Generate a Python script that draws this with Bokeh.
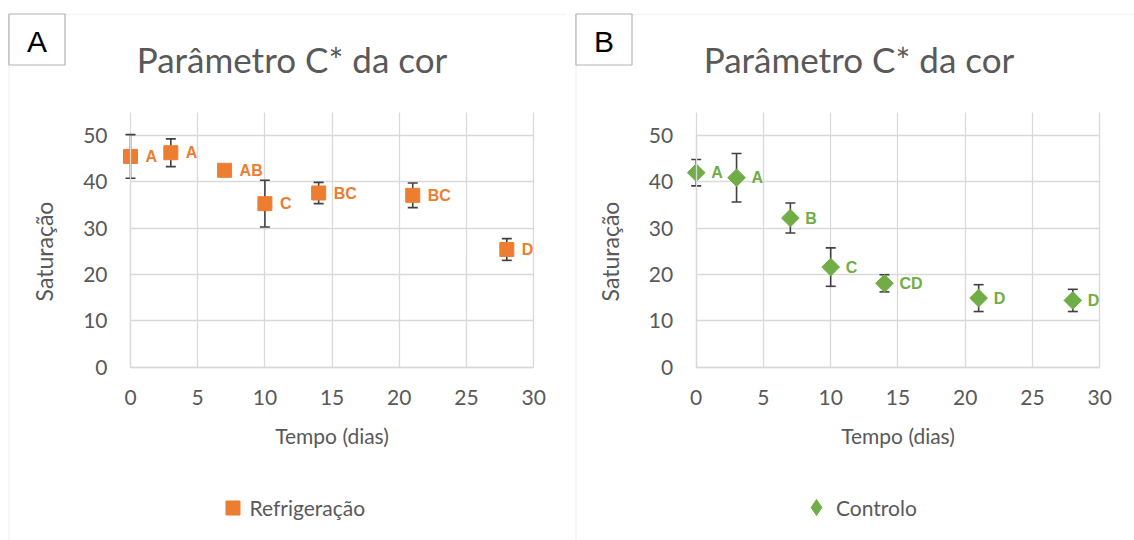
import math
from bokeh.plotting import figure
from bokeh.layouts import row
from bokeh.models import (ColumnDataSource, Whisker, TeeHead, LabelSet, Label,
                          BoxAnnotation, Legend, LegendItem, FixedTicker, Range1d, Grid)
from bokeh.core.properties import value
from bokeh.embed import file_html
from bokeh.resources import INLINE

# ---- data ----
days = [0, 3, 7, 10, 14, 21, 28]
refrig_mean = [45.5, 46.3, 42.5, 35.3, 37.6, 37.1, 25.4]
refrig_err = [4.7, 3.0, 1.0, 5.05, 2.3, 2.65, 2.35]
refrig_letters = ["A", "A", "AB", "C", "BC", "BC", "D"]

control_mean = [42.0, 40.9, 32.2, 21.6, 18.1, 14.9, 14.4]
control_err = [2.85, 5.25, 3.25, 4.15, 1.85, 2.9, 2.4]
control_letters = ["A", "A", "B", "C", "CD", "D", "D"]

x_ticks = [0, 5, 10, 15, 20, 25, 30]
y_ticks = [0, 10, 20, 30, 40, 50]
X_MAX, Y_MAX = 30, 55

TXT = "#595959"
GRID = "#D9D9D9"
FONT = "Lato"

W, H = 567, 540
Y0_PX, Y_PX_PER = 366.6, 4.63     # canvas y of value 0, px per unit


def make_panel(tag, means, errs, letters, color, marker, msize, angle,
               legend_name, x0_px, x_px_per, leg_marker, leg_glyph, leg_cx, leg_standoff):
    x_range = Range1d(-x0_px / x_px_per, (W - x0_px) / x_px_per)
    y_range = Range1d(-(H - Y0_PX) / Y_PX_PER, Y0_PX / Y_PX_PER)
    p = figure(width=W, height=H, output_backend="svg", toolbar_location=None,
               x_range=x_range, y_range=y_range, title=None, min_border=0)
    p.outline_line_color = None
    p.background_fill_color = "white"
    p.border_fill_color = "white"

    # axes (placed at the data origin)
    for ax in (p.xaxis[0], p.yaxis[0]):
        ax.fixed_location = 0
        ax.axis_line_color = GRID
        ax.axis_line_width = 1.3
        ax.major_tick_line_color = None
        ax.minor_tick_line_color = None
        ax.major_label_text_font = FONT
        ax.major_label_text_font_size = "21px"
        ax.major_label_text_color = TXT
        ax.axis_label_text_font = FONT
        ax.axis_label_text_font_style = "normal"
        ax.axis_label_text_color = TXT
    p.xaxis.axis_label_text_font_size = "21px"
    p.yaxis.axis_label_text_font_size = "23px"
    p.xaxis.ticker = FixedTicker(ticks=x_ticks)
    p.yaxis.ticker = FixedTicker(ticks=y_ticks)
    p.xaxis.bounds = (0, X_MAX)
    p.yaxis.bounds = (0, 50)
    p.xaxis.axis_label = "Tempo (dias)"
    p.yaxis.axis_label = "Saturação"
    p.xaxis.major_label_standoff = 17
    p.xaxis.axis_label_standoff = 14
    p.yaxis.major_label_standoff = 17
    p.yaxis.axis_label_standoff = 22

    # grid restricted to the plot area
    if "cross_bounds" in Grid.properties():
        p.xgrid.ticker = FixedTicker(ticks=x_ticks)
        p.ygrid.ticker = FixedTicker(ticks=y_ticks)
        p.xgrid.bounds = (0, X_MAX)
        p.xgrid.cross_bounds = (0, Y_MAX)
        p.ygrid.bounds = (0, Y_MAX)
        p.ygrid.cross_bounds = (0, X_MAX)
        p.grid.grid_line_color = GRID
        p.grid.grid_line_width = 1.3
    else:
        p.grid.visible = False
        p.segment(x0=x_ticks, x1=x_ticks, y0=[0] * len(x_ticks), y1=[Y_MAX] * len(x_ticks),
                  line_color=GRID, line_width=1.3)
        p.segment(x0=[0] * len(y_ticks), x1=[X_MAX] * len(y_ticks), y0=y_ticks, y1=y_ticks,
                  line_color=GRID, line_width=1.3)

    src = ColumnDataSource(dict(
        x=days, y=means, txt=letters,
        upper=[m + e for m, e in zip(means, errs)],
        lower=[m - e for m, e in zip(means, errs)],
    ))

    wh = Whisker(source=src, base="x", upper="upper", lower="lower",
                 line_color="#404040", line_width=1.6,
                 upper_head=TeeHead(size=10, line_color="#404040", line_width=1.6),
                 lower_head=TeeHead(size=10, line_color="#404040", line_width=1.6))
    p.add_layout(wh)

    r = p.scatter("x", "y", source=src, marker=marker, size=msize, angle=angle,
                  fill_color=color, line_color=color)

    labels = LabelSet(x="x", y="y", text="txt", source=src, x_offset=15,
                      text_baseline="middle", text_align="left",
                      text_font=value("Liberation Sans"), text_font_style="bold",
                      text_font_size="16px", text_color=color)
    p.add_layout(labels)

    # canvas pixel -> screen units (from bottom-left)
    def sy(cy):
        return H - cy

    # chart-area border (top + left edges)
    p.add_layout(BoxAnnotation(left=8.5, right=W + 100, top=sy(14), bottom=-100,
                               left_units="screen", right_units="screen",
                               top_units="screen", bottom_units="screen",
                               fill_alpha=0, line_color=GRID, line_width=1.5,
                               level="underlay"))
    # panel tag box
    p.add_layout(BoxAnnotation(left=8.5, right=64.5, top=sy(13.5), bottom=sy(64.5),
                               left_units="screen", right_units="screen",
                               top_units="screen", bottom_units="screen",
                               fill_color="white", fill_alpha=1, line_color="black",
                               line_width=1.2, level="overlay"))
    p.add_layout(Label(x=36.5, y=sy(41), x_units="screen", y_units="screen",
                       text=tag, text_font="Liberation Sans", text_font_size="30px",
                       text_align="center", text_baseline="middle",
                       text_color="black", level="overlay"))
    # title
    p.add_layout(Label(x=291.5, y=sy(58), x_units="screen", y_units="screen",
                       text="Parâmetro C* da cor", text_font=FONT,
                       text_font_size="35px", text_align="center",
                       text_baseline="alphabetic", text_color=TXT))

    # legend (hidden twin renderer so the legend marker keeps its shape)
    if leg_marker is None:
        leg_r = r
    else:
        leg_r = p.scatter("x", "y", source=src, marker=leg_marker,
                          fill_color=color, line_color=color)
        leg_r.visible = False
    leg = Legend(items=[LegendItem(label=legend_name, renderers=[leg_r])],
                 location=(leg_cx - leg_glyph / 2, sy(507 + leg_glyph / 2)),
                 glyph_width=leg_glyph, glyph_height=leg_glyph,
                 label_standoff=leg_standoff, padding=0, margin=0, spacing=0,
                 border_line_color=None, background_fill_alpha=0,
                 label_text_font=FONT, label_text_font_size="21px",
                 label_text_color=TXT)
    p.add_layout(leg, "center")
    return p


pa = make_panel("A", refrig_mean, refrig_err, refrig_letters, "#ED7D31",
                "square", 14, 0, "Refrigeração", 130, 13.44,
                None, 35, 232, -6)
pb = make_panel("B", control_mean, control_err, control_letters, "#70AD47",
                "square", 12.5, math.pi / 4, "Controlo", 128.7, 13.45,
                "diamond", 40, 249, -17)

layout = row(pa, pb, spacing=0)
open("out.html", "w").write(file_html(layout, INLINE))
